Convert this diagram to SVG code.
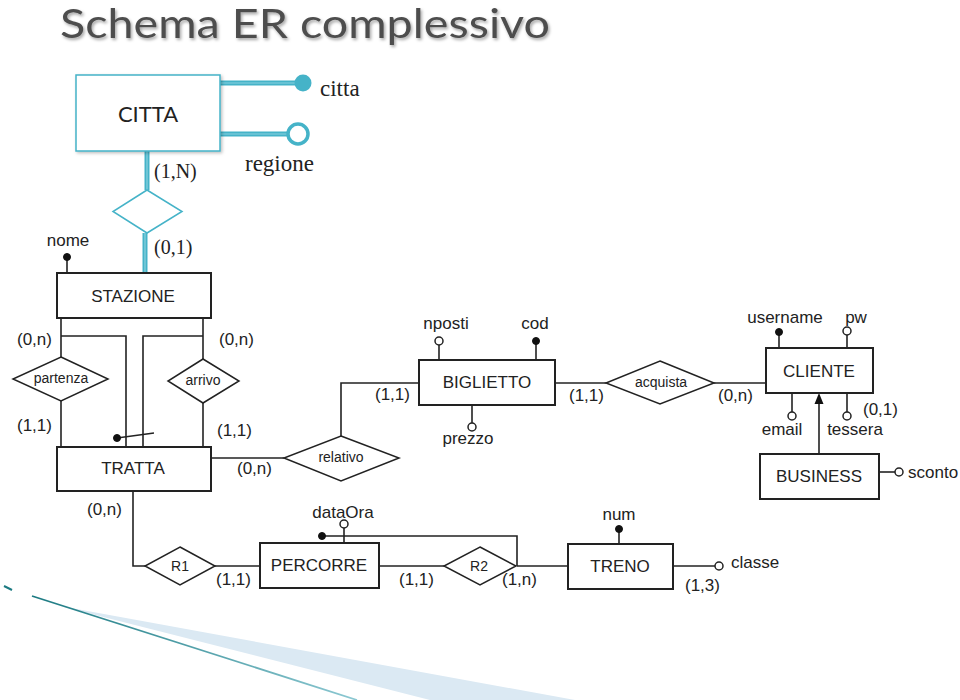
<svg xmlns="http://www.w3.org/2000/svg" width="960" height="700" viewBox="0 0 960 700">
<defs>
<style>
.ent{fill:#fff;stroke:#222;stroke-width:2}
.rel{fill:#fff;stroke:#222;stroke-width:1.5}
.ln{fill:none;stroke:#222;stroke-width:1.6}
.t{font-family:"Liberation Sans",Arial,sans-serif;font-size:17px;fill:#222}
.tc{text-anchor:middle}
.rt{font-family:"Liberation Sans",Arial,sans-serif;font-size:14px;fill:#222;text-anchor:middle}
.sf{font-family:"Liberation Serif","Times New Roman",serif;fill:#222}
.fd{fill:#111;stroke:#111;stroke-width:1}
.od{fill:#fff;stroke:#222;stroke-width:1.5}
.teal{fill:none;stroke:#45b3c8;stroke-width:5}
.tealin{fill:none;stroke:#8ad2df;stroke-width:1.2}
</style>
<filter id="sh" x="-10%" y="-10%" width="130%" height="140%">
<feDropShadow dx="1.5" dy="2" stdDeviation="1.5" flood-color="#000" flood-opacity="0.35"/>
</filter>
<filter id="bs" x="-10%" y="-10%" width="130%" height="130%">
<feDropShadow dx="1.5" dy="1.5" stdDeviation="1.5" flood-color="#000" flood-opacity="0.25"/>
</filter>
<linearGradient id="tl" x1="0" y1="0" x2="1" y2="0">
<stop offset="0" stop-color="#1c7a82"/>
<stop offset="1" stop-color="#8cc8d2"/>
</linearGradient>
</defs>
<rect width="960" height="700" fill="#fff"/>

<!-- decoration -->
<g id="decor">
<polygon points="60,606 575,700 430,700" fill="#dbe9f3"/>
<line x1="4" y1="586" x2="12" y2="590" stroke="#1c7a82" stroke-width="2"/>
<line x1="32" y1="596" x2="357" y2="700" stroke="url(#tl)" stroke-width="1.8"/>
</g>

<text x="60" y="38" font-family="Lato,'Open Sans',sans-serif" font-size="40" fill="#4d4d4d" textLength="490" lengthAdjust="spacingAndGlyphs" filter="url(#sh)">Schema ER complessivo</text>

<!-- connectors -->
<g id="connectors">
<!-- CITTA part -->
<line class="teal" x1="220" y1="83" x2="300" y2="83"/>
<line class="tealin" x1="220" y1="83" x2="300" y2="83"/>
<line class="teal" x1="220" y1="134" x2="290" y2="134"/>
<line class="tealin" x1="220" y1="134" x2="290" y2="134"/>
<line class="teal" x1="147" y1="151" x2="147" y2="190"/>
<line class="tealin" x1="147" y1="151" x2="147" y2="190"/>
<line class="teal" x1="145" y1="233" x2="145" y2="274"/>
<line class="tealin" x1="145" y1="233" x2="145" y2="274"/>
<circle cx="303" cy="83" r="8.5" fill="#45b3c8"/>
<circle cx="298" cy="134" r="10" fill="#fff" stroke="#45b3c8" stroke-width="3.5"/>

<!-- nome -->
<line class="ln" x1="67" y1="257" x2="67" y2="273"/>
<circle class="fd" cx="67" cy="257" r="3.5"/>

<!-- STAZIONE - partenza/arrivo - TRATTA -->
<polyline class="ln" points="61,318 61,357"/>
<polyline class="ln" points="61,401 61,447"/>
<polyline class="ln" points="61,336 126,336 126,447"/>
<polyline class="ln" points="203,318 203,359"/>
<polyline class="ln" points="203,403 203,447"/>
<polyline class="ln" points="203,336 143,336 143,447"/>
<line class="ln" x1="117" y1="438" x2="154" y2="433"/>
<circle class="fd" cx="117" cy="438" r="3.5"/>

<!-- TRATTA - relativo - BIGLIETTO -->
<line class="ln" x1="211" y1="458" x2="284" y2="458"/>
<polyline class="ln" points="341,436 341,383 419,383"/>

<!-- BIGLIETTO attributes -->
<line class="ln" x1="439" y1="345" x2="439" y2="360"/>
<circle class="od" cx="439" cy="341" r="4"/>
<line class="ln" x1="536" y1="341" x2="536" y2="360"/>
<circle class="fd" cx="536" cy="341" r="3.5"/>
<line class="ln" x1="472" y1="405" x2="472" y2="423"/>
<circle class="od" cx="472" cy="427" r="4"/>

<!-- BIGLIETTO - acquista - CLIENTE -->
<line class="ln" x1="555" y1="383" x2="606" y2="383"/>
<line class="ln" x1="714" y1="383" x2="766" y2="383"/>

<!-- CLIENTE attributes -->
<line class="ln" x1="779" y1="332" x2="779" y2="348"/>
<circle class="fd" cx="779" cy="332" r="3.5"/>
<line class="ln" x1="847" y1="335" x2="847" y2="348"/>
<circle class="od" cx="847" cy="331" r="4"/>
<line class="ln" x1="792" y1="393" x2="792" y2="412"/>
<circle class="od" cx="792" cy="416" r="4"/>
<line class="ln" x1="847" y1="393" x2="847" y2="412"/>
<circle class="od" cx="847" cy="416" r="4"/>

<!-- generalization -->
<line class="ln" x1="819" y1="454" x2="819" y2="402"/>
<polygon points="819,393 814.5,404 823.5,404" fill="#111"/>

<!-- sconto -->
<line class="ln" x1="879" y1="472" x2="895" y2="472"/>
<circle class="od" cx="899" cy="472" r="4"/>

<!-- TRATTA - R1 - PERCORRE -->
<polyline class="ln" points="133,491 133,566 145,566"/>
<line class="ln" x1="215" y1="566" x2="260" y2="566"/>
<line class="ln" x1="379" y1="566" x2="444" y2="566"/>
<line class="ln" x1="517" y1="566" x2="568" y2="566"/>
<line class="ln" x1="344" y1="528" x2="344" y2="543"/>
<circle class="od" cx="344" cy="524" r="4"/>
<polyline class="ln" points="322,536 517,536 517,566"/>
<circle class="fd" cx="322" cy="536" r="3.5"/>

<!-- TRENO attributes -->
<line class="ln" x1="619" y1="529" x2="619" y2="544"/>
<circle class="fd" cx="619" cy="529" r="3.5"/>
<line class="ln" x1="673" y1="566" x2="715" y2="566"/>
<circle class="od" cx="719" cy="566" r="4"/>
</g>

<!-- nodes -->
<g id="citta">
<rect x="76" y="75" width="144" height="76" fill="#fff" stroke="#45b3c8" stroke-width="1.5" filter="url(#bs)"/>
<text x="148" y="122" text-anchor="middle" font-family="Lato,'Open Sans',sans-serif" font-size="22" fill="#222">CITTA</text>
<text class="sf" x="320" y="96" font-size="23">citta</text>
<text class="sf" x="245" y="171" font-size="23">regione</text>
<text class="sf" x="154" y="178" font-size="20">(1,N)</text>
<text class="sf" x="154" y="254" font-size="20">(0,1)</text>
</g>
<g id="citta-rel">
<polygon points="147,190 182,211.5 147,233 113,211.5" fill="#fff" stroke="#45b3c8" stroke-width="1.5"/>
</g>

<g id="stazione">
<rect class="ent" x="57" y="273" width="154" height="45"/>
<text class="t tc" x="133" y="302">STAZIONE</text>
<text class="t tc" x="68" y="246">nome</text>
</g>

<g id="partenza">
<polygon class="rel" points="61,357 108,379 61,401 13,379"/>
<text class="rt" x="61" y="383">partenza</text>
<text class="t" x="17" y="345">(0,n)</text>
<text class="t" x="17" y="431">(1,1)</text>
</g>

<g id="arrivo">
<polygon class="rel" points="203,359 239,381 203,403 168,381"/>
<text class="rt" x="203" y="385">arrivo</text>
<text class="t" x="219" y="345">(0,n)</text>
<text class="t" x="217" y="436">(1,1)</text>
</g>

<g id="tratta">
<rect class="ent" x="57" y="447" width="154" height="44"/>
<text class="t tc" x="133" y="474">TRATTA</text>
<text class="t" x="237" y="474">(0,n)</text>
<text class="t" x="87" y="515">(0,n)</text>
</g>

<g id="relativo">
<polygon class="rel" points="341,436 399,458 341,481 284,458"/>
<text class="rt" x="341" y="462">relativo</text>
<text class="t" x="375" y="400">(1,1)</text>
</g>

<g id="biglietto">
<rect class="ent" x="419" y="360" width="136" height="45"/>
<text class="t tc" x="487" y="388">BIGLIETTO</text>
<text class="t tc" x="446" y="329">nposti</text>
<text class="t tc" x="535" y="329">cod</text>
<text class="t tc" x="468" y="444">prezzo</text>
<text class="t" x="569" y="401">(1,1)</text>
</g>

<g id="acquista">
<polygon class="rel" points="660,361 714,383 660,404 606,383"/>
<text class="rt" x="661" y="387">acquista</text>
<text class="t" x="718" y="401">(0,n)</text>
</g>

<g id="cliente">
<rect class="ent" x="766" y="348" width="107" height="45"/>
<text class="t tc" x="819" y="377">CLIENTE</text>
<text class="t tc" x="785" y="323">username</text>
<text class="t tc" x="856" y="323">pw</text>
<text class="t tc" x="782" y="435">email</text>
<text class="t tc" x="855" y="435">tessera</text>
<text class="t" x="863" y="415">(0,1)</text>
</g>

<g id="business">
<rect class="ent" x="760" y="454" width="119" height="45"/>
<text class="t tc" x="819" y="482">BUSINESS</text>
<text class="t" x="908" y="478">sconto</text>
</g>

<g id="r1">
<polygon class="rel" points="180,547 215,566 180,585 145,566"/>
<text class="rt" x="180" y="571">R1</text>
<text class="t" x="216" y="585">(1,1)</text>
</g>

<g id="percorre">
<rect class="ent" x="260" y="543" width="119" height="45"/>
<text class="t tc" x="319" y="571">PERCORRE</text>
<text class="t tc" x="343" y="518">dataOra</text>
<text class="t" x="399" y="585">(1,1)</text>
</g>

<g id="r2">
<polygon class="rel" points="480,547 516,566 480,585 444,566"/>
<text class="rt" x="479" y="571">R2</text>
<text class="t" x="502" y="585">(1,n)</text>
</g>

<g id="treno">
<rect class="ent" x="568" y="544" width="105" height="45"/>
<text class="t tc" x="620" y="572">TRENO</text>
<text class="t tc" x="619" y="520">num</text>
<text class="t" x="731" y="568">classe</text>
<text class="t" x="685" y="591">(1,3)</text>
</g>
</svg>
